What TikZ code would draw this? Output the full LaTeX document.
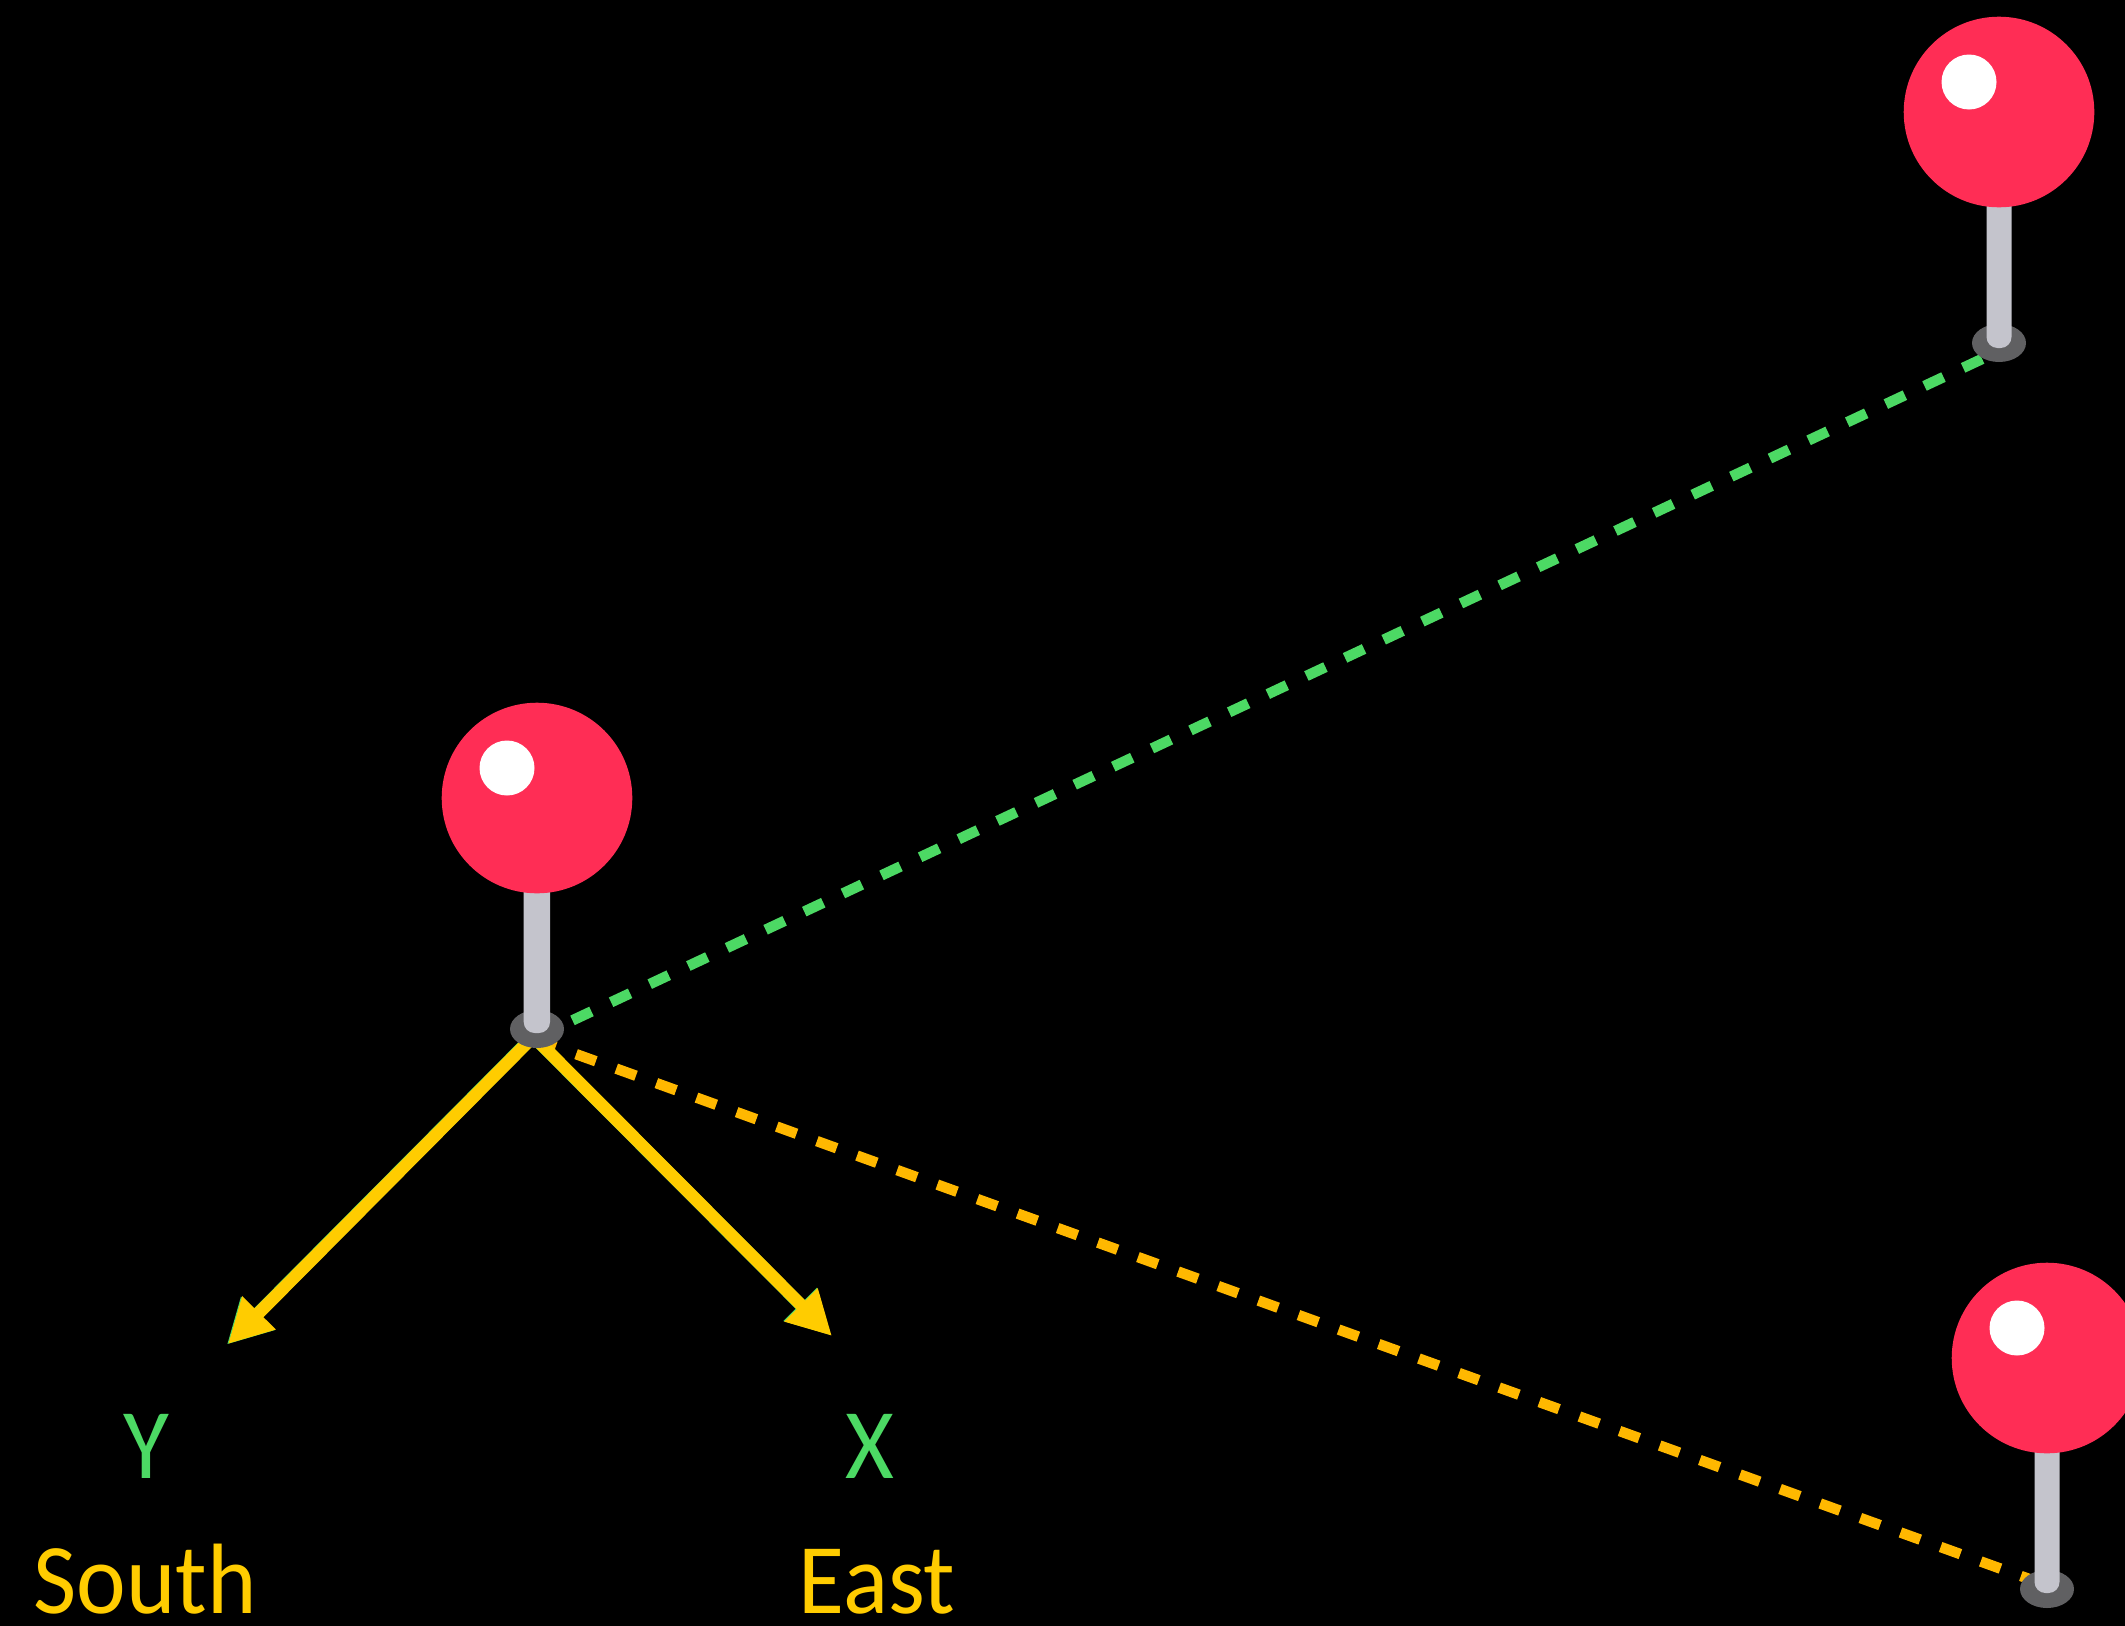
\documentclass[tikz,border=0pt]{standalone}
\usepackage{fontspec}
\setmainfont{Carlito}
\newfontfamily\narrowfont[FakeStretch=0.94]{Carlito}
\usetikzlibrary{arrows.meta, shapes.geometric}
\definecolor{PinRed}{RGB}{255,45,85}
\definecolor{StemGray}{RGB}{196,196,204}
\definecolor{FootGray}{RGB}{96,96,98}
\definecolor{AxisYellow}{RGB}{255,204,0}
\definecolor{LineGreen}{RGB}{76,217,100}
\definecolor{LineOrange}{RGB}{255,184,0}
\tikzset{
  ball/.style={circle, fill=PinRed, inner sep=0pt, minimum size=190.6pt},
  glint/.style={circle, fill=white, inner sep=0pt, minimum size=55pt},
  foot/.style={ellipse, fill=FootGray, inner sep=0pt, minimum width=54pt, minimum height=38pt},
  stem/.style={fill=StemGray, rounded corners=11pt},
  axisline/.style={line width=12.5pt, AxisYellow, -{Stealth[length=44pt, width=44pt, inset=0pt]}},
  axisedge/.style={line width=12.5pt, LineGreen, -{Stealth[length=44pt, width=44pt, inset=0pt]}},
  sightline/.style={line width=10.5pt, dash pattern=on 21pt off 21.67pt},
  axislabel/.style={anchor=base, font=\narrowfont\fontsize{100}{100}\selectfont, inner sep=0pt},
}
\begin{document}
\begin{tikzpicture}[x=1pt, y=-1pt]
  \useasboundingbox (0,0) rectangle (2125,1625.6);
  \fill[black] (-2,-2) rectangle (2127,1628);
  % end points
  \coordinate (startY) at (537,1033);
  \coordinate (startX) at (537,1040);
  \coordinate (tipY) at (228,1344);
  \coordinate (tipX) at (832,1336);
  \coordinate (greenA) at (537,1037);
  \coordinate (greenB) at (1999,351);
  \coordinate (orangeA) at (537,1040);
  \coordinate (orangeC) at (2047,1585.4);
  % dashed lines
  \draw[sightline, LineGreen, dash phase=3.5pt] (greenA) -- (greenB);
  \draw[sightline, LineOrange, dash phase=1.1pt] (orangeA) -- (orangeC);
  % axes
  \draw[axisedge] ([xshift=-1.2pt,yshift=-0.6pt]startY) -- ([xshift=-1.2pt,yshift=-0.6pt]tipY);
  \draw[axisline] (startY) -- (tipY);
  \draw[axisedge] ([xshift=-0.8pt,yshift=0.5pt]startX) -- ([xshift=-0.8pt,yshift=0.5pt]tipX);
  \draw[axisline] (startX) -- (tipX);
  % pin at the middle
  \node[foot] (footA) at (537,1029) {};
  \fill[stem] (523.7,780) rectangle (550,1033);
  \node[ball] (ballA) at (537,798) {};
  \node[glint] (glintA) at (507,768) {};
  % pin at the top
  \node[foot] (footB) at (1999,343) {};
  \fill[stem] (1986.5,100) rectangle (2011.5,348);
  \node[ball] (ballB) at (1999,112) {};
  \node[glint] (glintB) at (1969,82) {};
  % pin at the bottom
  \node[foot] (footC) at (2047,1589) {};
  \fill[stem] (2034.5,1340) rectangle (2059.5,1593);
  \node[ball] (ballC) at (2047,1358) {};
  \node[glint] (glintC) at (2017,1328) {};
  % labels
  \node[axislabel, LineGreen] (labelY) at (146,1478) {Y};
  \node[axislabel, LineGreen] (labelX) at (870,1478) {X};
  \node[axislabel, AxisYellow] (labelS) at (145,1613) {South};
  \node[axislabel, AxisYellow] (labelE) at (877,1613) {East};
\end{tikzpicture}
\end{document}
